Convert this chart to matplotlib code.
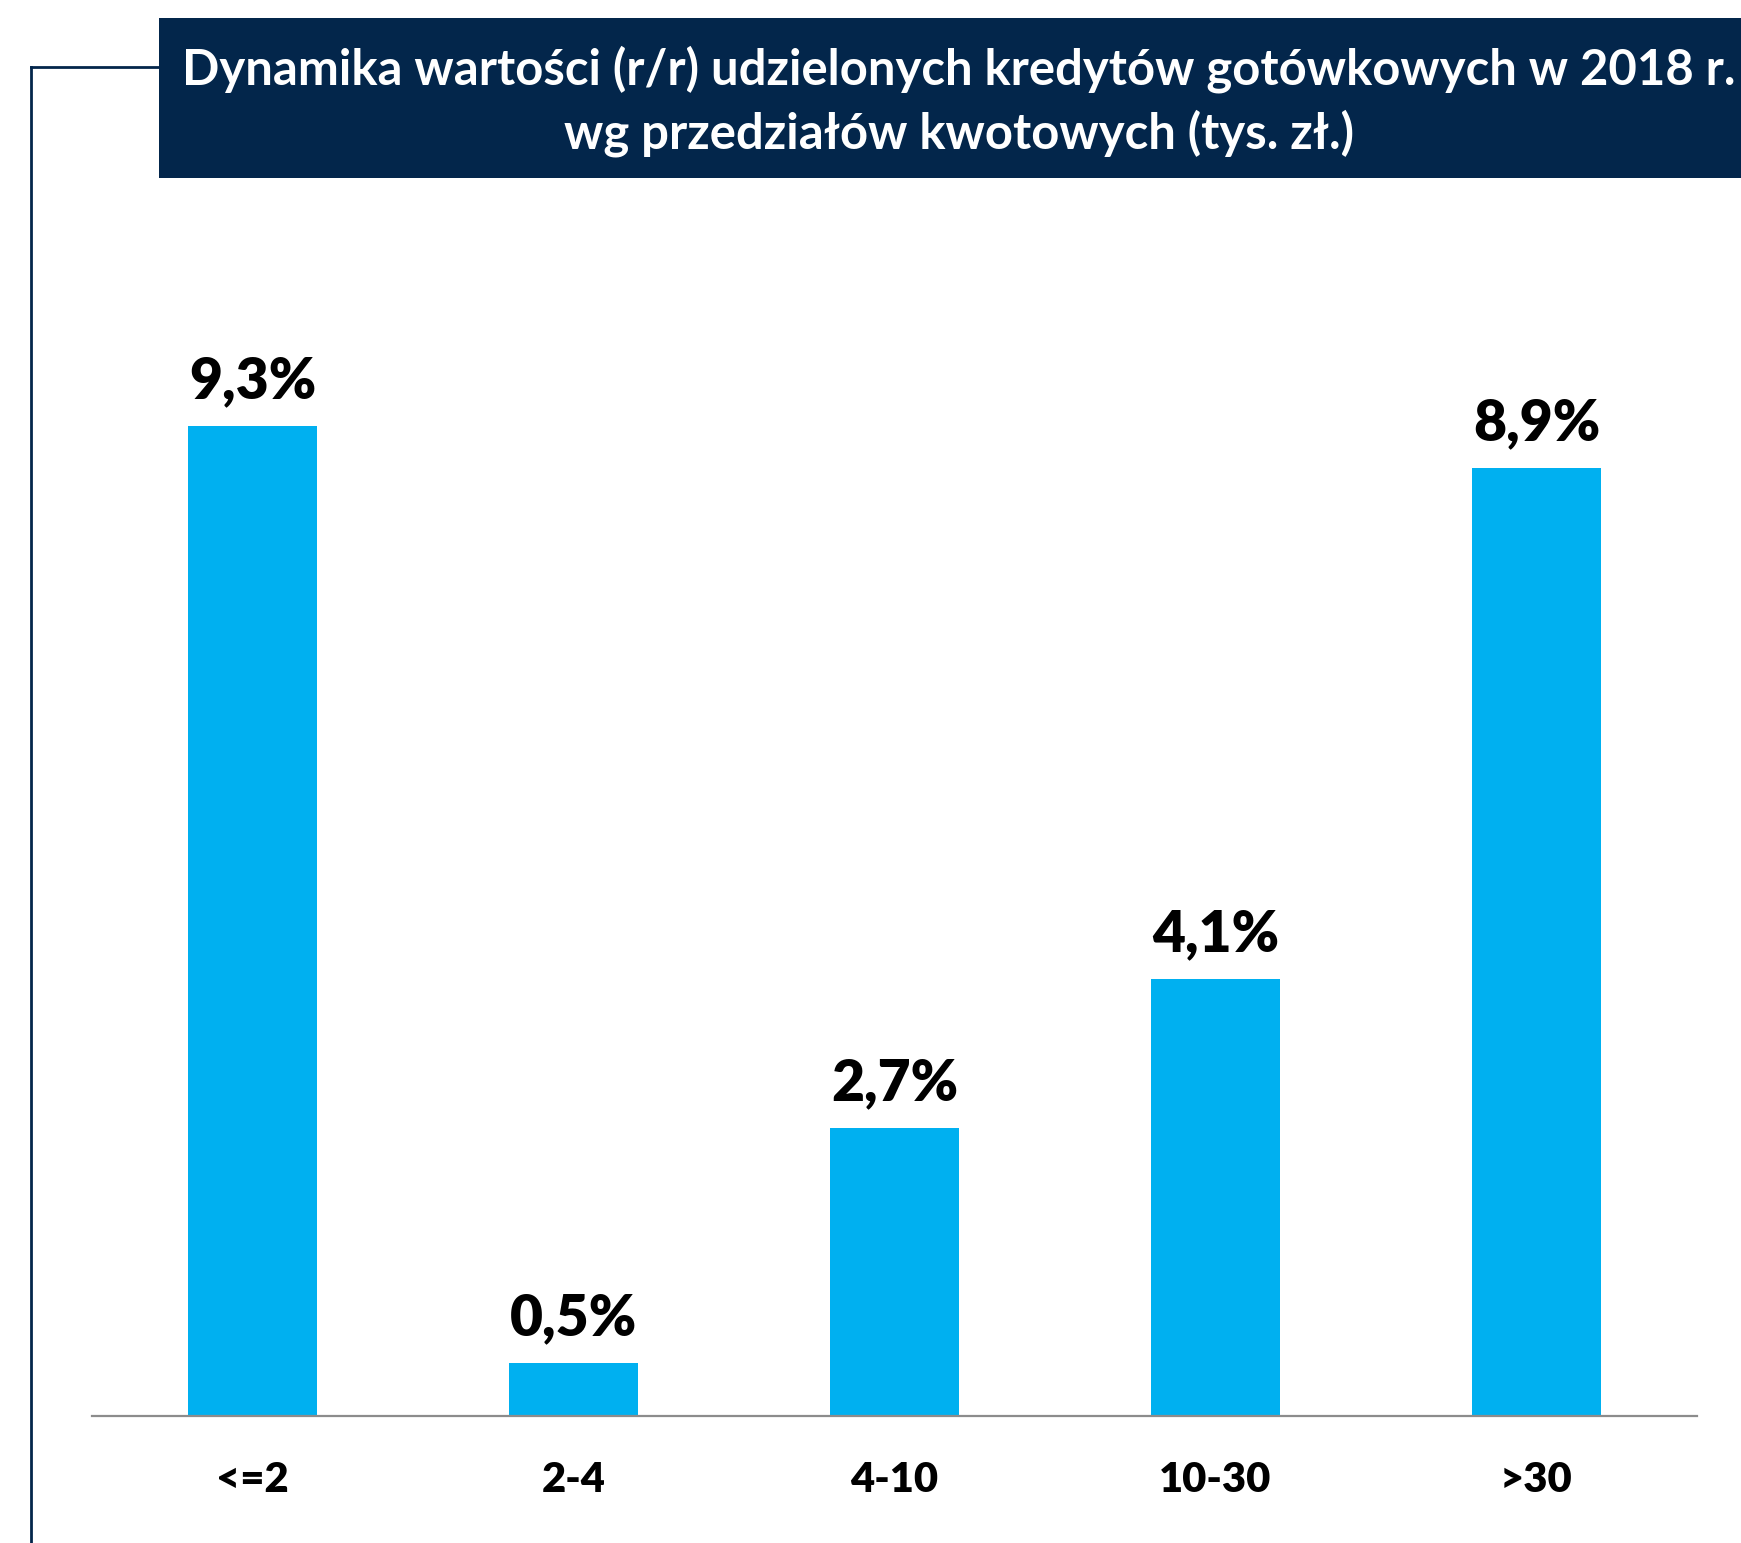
import matplotlib
matplotlib.use("Agg")
import matplotlib.pyplot as plt
from matplotlib.patches import Rectangle
from matplotlib.lines import Line2D

categories = ["<=2", "2-4", "4-10", "10-30", ">30"]
values = [9.3, 0.5, 2.7, 4.1, 8.9]
value_labels = ["9,3%", "0,5%", "2,7%", "4,1%", "8,9%"]
title_lines = ["Dynamika wartości (r/r) udzielonych kredytów gotówkowych w 2018 r.",
               "wg przedziałów kwotowych (tys. zł.)"]

plt.rcParams['font.family'] = ['Lato', 'DejaVu Sans']

W, H = 1741, 1543
DPI = 100
fig = plt.figure(figsize=(W / DPI, H / DPI), dpi=DPI)
fig.patch.set_facecolor('white')

def fx(px):
    return px / W

def fy(py):
    return 1 - py / H

navy = '#03264B'

# Title box
fig.patches.append(Rectangle((fx(159), fy(178)), fx(1741) - fx(159), fy(18) - fy(178),
                             transform=fig.transFigure, facecolor=navy, edgecolor='none', zorder=1))
fig.text(fx(959), fy(69), title_lines[0], ha='center', va='center', color='white',
         fontsize=35.3, fontweight='bold', zorder=3)
fig.text(fx(959), fy(133), title_lines[1], ha='center', va='center', color='white',
         fontsize=35.3, fontweight='bold', zorder=3)

# Left bracket line
fig.lines.append(Line2D([fx(31), fx(31)], [fy(67), fy(1543)], transform=fig.transFigure,
                        color=navy, linewidth=2.0))
fig.lines.append(Line2D([fx(31), fx(159)], [fy(67), fy(67)], transform=fig.transFigure,
                        color=navy, linewidth=2.0))

# Axes
ax = fig.add_axes([fx(92), fy(1416), fx(1697) - fx(92), fy(351) - fy(1416)])
x = list(range(len(categories)))
bars = ax.bar(x, values, width=0.4, color='#00B0F0', zorder=2)
ax.set_xlim(-0.5, 4.5)
ax.set_ylim(0, 10)
for s in ['top', 'right', 'left']:
    ax.spines[s].set_visible(False)
ax.spines['bottom'].set_color('#8C8C8C')
ax.spines['bottom'].set_linewidth(1.6)
ax.set_yticks([])
ax.set_xticks(x)
ax.set_xticklabels(categories, fontsize=30, fontweight='heavy')
ax.tick_params(axis='x', length=0, pad=55)
for lab in ax.get_xticklabels():
    lab.set_va('baseline')

for xi, v, lab in zip(x, values, value_labels):
    ax.annotate(lab, (xi, v), xytext=(0, 20), textcoords='offset points',
                ha='center', va='baseline', fontsize=41, fontweight='heavy', color='black')

fig.savefig('out.png', dpi=DPI, facecolor='white')
